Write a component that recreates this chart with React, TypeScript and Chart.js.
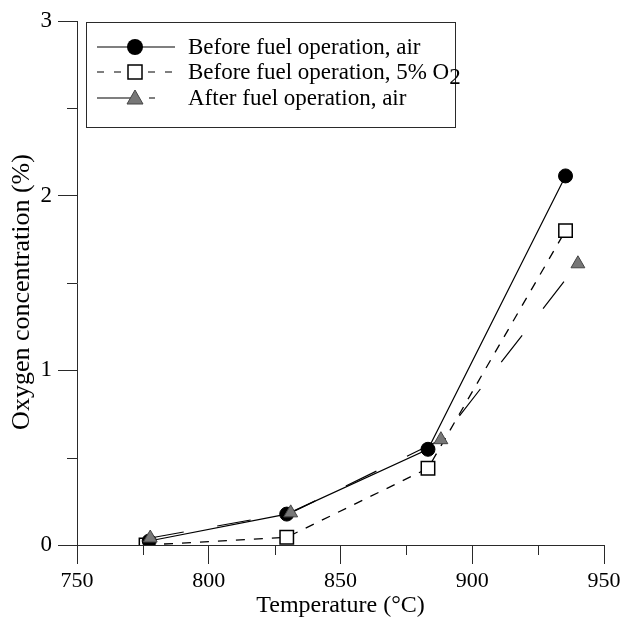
import React, { useEffect, useRef } from 'react';
import { Chart, registerables } from 'chart.js';

Chart.register(...registerables);

// Measured oxygen concentration vs. temperature
const tempBeforeAir = [777.4, 829.6, 883.2, 935.4];
const o2BeforeAir = [0.023, 0.177, 0.548, 2.113];

const tempBefore5 = [776.2, 829.6, 883.2, 935.4];
const o2Before5 = [0.0, 0.044, 0.439, 1.8];

const tempAfterAir = [777.8, 831.1, 888.1, 940.1];
const o2AfterAir = [0.04, 0.184, 0.603, 1.61];

const seriesLabels = [
  'Before fuel operation, air',
  'Before fuel operation, 5% O',
  'After fuel operation, air',
];

const xMinorTicks = [775, 825, 875, 925];
const yMinorTicks = [0.5, 1.5, 2.5];

const yAxisTitle = 'Oxygen concentration (%)';

const FONT = "'Liberation Serif', 'Times New Roman', serif";
const AXIS = '#2a2a2a';

const toPoints = (xs: number[], ys: number[]) => xs.map((x, i) => ({ x, y: ys[i] }));

const minorTicksPlugin = {
  id: 'minorTicks',
  afterDraw(chart: any) {
    const { ctx, scales } = chart;
    const xs = scales.x;
    const ys = scales.y;
    ctx.save();
    ctx.strokeStyle = AXIS;
    ctx.lineWidth = 1;
    ctx.beginPath();
    xMinorTicks.forEach((v) => {
      const px = Math.round(xs.getPixelForValue(v)) + 0.5;
      ctx.moveTo(px, xs.top);
      ctx.lineTo(px, xs.top + 10);
    });
    yMinorTicks.forEach((v) => {
      const py = Math.round(ys.getPixelForValue(v)) + 0.5;
      ctx.moveTo(ys.right - 10, py);
      ctx.lineTo(ys.right, py);
    });
    ctx.stroke();

    // vertical axis title, sitting slightly below the plot's middle
    ctx.translate(22, (chart.chartArea.top + chart.chartArea.bottom) / 2 + 9);
    ctx.rotate(-Math.PI / 2);
    ctx.font = `26px ${FONT}`;
    ctx.fillStyle = '#000';
    ctx.textAlign = 'center';
    ctx.textBaseline = 'middle';
    ctx.fillText(yAxisTitle, 0, 0);
    ctx.restore();
  },
};

function drawMarker(ctx: CanvasRenderingContext2D, kind: string, x: number, y: number) {
  ctx.save();
  ctx.setLineDash([]);
  if (kind === 'circle') {
    ctx.fillStyle = '#000';
    ctx.beginPath();
    ctx.arc(x, y, 8, 0, Math.PI * 2);
    ctx.fill();
  } else if (kind === 'rect') {
    ctx.fillStyle = '#fff';
    ctx.strokeStyle = '#000';
    ctx.lineWidth = 1.5;
    ctx.fillRect(x - 7, y - 7, 14, 14);
    ctx.strokeRect(x - 7, y - 7, 14, 14);
  } else {
    ctx.fillStyle = '#777';
    ctx.strokeStyle = '#444';
    ctx.lineWidth = 1;
    ctx.beginPath();
    ctx.moveTo(x, y - 8);
    ctx.lineTo(x + 8, y + 6);
    ctx.lineTo(x - 8, y + 6);
    ctx.closePath();
    ctx.fill();
    ctx.stroke();
  }
  ctx.restore();
}

const boxLegendPlugin = {
  id: 'boxLegend',
  afterDraw(chart: any) {
    const { ctx, chartArea } = chart;
    const left = chartArea.left + 9;
    const top = chartArea.top + 1;
    const width = 369;
    const height = 105;
    ctx.save();
    ctx.strokeStyle = AXIS;
    ctx.lineWidth = 1;
    ctx.strokeRect(Math.round(left) + 0.5, Math.round(top) + 0.5, width, height);

    const kinds = ['circle', 'rect', 'triangle'];
    const rowY = [top + 25, top + 50, top + 76];
    ctx.font = `23px ${FONT}`;
    ctx.fillStyle = '#000';
    ctx.textBaseline = 'middle';
    ctx.textAlign = 'left';
    seriesLabels.forEach((label, i) => {
      const y = rowY[i];
      const x0 = left + 11;
      const x1 = left + 89;
      const mx = left + 49;
      ctx.strokeStyle = '#000';
      ctx.lineWidth = 1.2;
      ctx.beginPath();
      if (i === 0) {
        ctx.setLineDash([]);
        ctx.moveTo(x0, y);
        ctx.lineTo(x1, y);
      } else if (i === 1) {
        ctx.setLineDash([7, 10]);
        ctx.moveTo(x0, y);
        ctx.lineTo(x1, y);
      } else {
        ctx.setLineDash([]);
        ctx.moveTo(x0, y);
        ctx.lineTo(mx, y);
        ctx.moveTo(mx + 14, y);
        ctx.lineTo(mx + 20, y);
      }
      ctx.stroke();
      ctx.setLineDash([]);
      drawMarker(ctx, kinds[i], mx, y);
      const tx = left + 102;
      ctx.fillText(label, tx, y + 1);
      if (i === 1) {
        const w = ctx.measureText(label).width;
        ctx.fillText('2', tx + w, y + 6);
      }
    });
    ctx.restore();
  },
};

export default function App() {
  const canvasRef = useRef<HTMLCanvasElement>(null);

  useEffect(() => {
    document.body.style.margin = '0';
    const canvas = canvasRef.current;
    if (!canvas) return;

    const chart = new Chart(canvas, {
      type: 'line',
      data: {
        datasets: [
          {
            label: seriesLabels[0],
            data: toPoints(tempBeforeAir, o2BeforeAir),
            borderColor: '#000',
            borderWidth: 1.2,
            pointStyle: 'circle',
            pointRadius: 7,
            pointBackgroundColor: '#000',
            pointBorderColor: '#000',
            pointBorderWidth: 1,
            tension: 0,
            order: 1,
          },
          {
            label: seriesLabels[1] + '2',
            data: toPoints(tempBefore5, o2Before5),
            borderColor: '#000',
            borderWidth: 1.3,
            borderDash: [9, 9],
            pointStyle: 'rect',
            pointRadius: 9.5,
            pointBackgroundColor: '#fff',
            pointBorderColor: '#000',
            pointBorderWidth: 1.5,
            tension: 0,
            order: 2,
          },
          {
            label: seriesLabels[2],
            data: toPoints(tempAfterAir, o2AfterAir),
            borderColor: '#000',
            borderWidth: 1.2,
            borderDash: [34, 34],
            pointStyle: 'triangle',
            pointRadius: 8,
            pointBackgroundColor: '#777',
            pointBorderColor: '#444',
            pointBorderWidth: 1,
            tension: 0,
            order: 0,
          },
        ],
      },
      options: {
        responsive: false,
        animation: false,
        layout: { padding: { top: 21, right: 16, left: 0, bottom: 0 } },
        plugins: {
          legend: { display: false },
          tooltip: { enabled: false },
        },
        scales: {
          x: {
            type: 'linear',
            min: 750,
            max: 950,
            ticks: {
              stepSize: 50,
              color: '#000',
              font: { family: FONT, size: 22 },
              padding: 4,
            },
            grid: {
              drawOnChartArea: false,
              drawTicks: true,
              tickLength: 19,
              color: AXIS,
              lineWidth: 1,
            },
            border: { display: true, color: AXIS, width: 1 },
            title: {
              display: true,
              text: 'Temperature (°C)',
              color: '#000',
              font: { family: FONT, size: 24 },
              padding: { top: 0, bottom: 3.6 },
            },
            afterFit: (scale: any) => {
              scale.height = 79;
              scale.paddingLeft = 0;
              scale.paddingRight = 0;
            },
          },
          y: {
            type: 'linear',
            min: 0,
            max: 3,
            ticks: {
              stepSize: 1,
              color: '#000',
              font: { family: FONT, size: 23 },
              padding: 6,
            },
            grid: {
              drawOnChartArea: false,
              drawTicks: true,
              tickLength: 19,
              color: AXIS,
              lineWidth: 1,
            },
            border: { display: true, color: AXIS, width: 1 },
            title: { display: false },
            afterFit: (scale: any) => {
              scale.width = 77;
              scale.paddingTop = 0;
              scale.paddingBottom = 0;
            },
          },
        },
      },
      plugins: [minorTicksPlugin, boxLegendPlugin],
    });

    return () => chart.destroy();
  }, []);

  return (
    <div style={{ width: 620, height: 624 }}>
      <canvas ref={canvasRef} width={620} height={624} style={{ display: 'block' }} />
    </div>
  );
}
